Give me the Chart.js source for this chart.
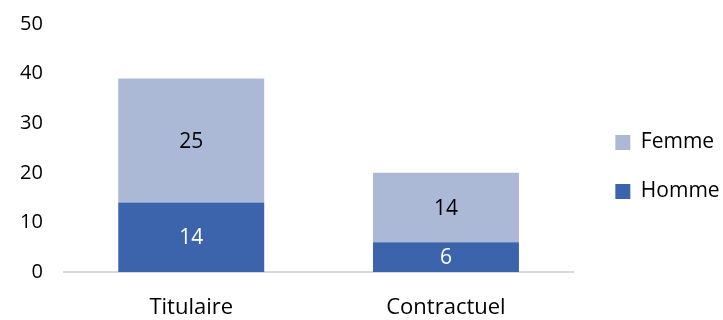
<!DOCTYPE html>
<html>
<head>
<meta charset="utf-8">
<script src="https://cdn.jsdelivr.net/npm/chart.js@4"></script>
<style>
  html, body { margin: 0; padding: 0; background: #fff; }
  #wrap { width: 723px; height: 320px; }
</style>
</head>
<body>
<div id="wrap"><canvas id="chart" width="723" height="320"></canvas></div>
<script>
const categories = ['Titulaire', 'Contractuel'];
const homme = [14, 6];
const femme = [25, 14];
const yTicks = [0, 10, 20, 30, 40, 50];

const FONT = '"Open Sans", sans-serif';

// values written in the middle of each bar segment
const barLabels = {
    id: 'barLabels',
    afterDatasetsDraw(chart) {
        const ctx = chart.ctx;
        ctx.save();
        ctx.font = '21px ' + FONT;
        ctx.textAlign = 'center';
        ctx.textBaseline = 'middle';
        chart.data.datasets.forEach((ds, i) => {
            chart.getDatasetMeta(i).data.forEach((bar, j) => {
                const mid = (bar.y + bar.base) / 2;
                ctx.fillStyle = ds.labelColor;
                ctx.fillText(ds.data[j], bar.x, mid + 1);
            });
        });
        ctx.restore();
    }
};

// the legend clips its own box, give it a little extra room
const legendRoom = {
    id: 'legendRoom',
    afterInit(chart) {
        const lg = chart.legend;
        if (!lg) return;
        const fit = lg.fit.bind(lg);
        lg.fit = function () { fit(); this.width += 15; };
    }
};

new Chart(document.getElementById('chart').getContext('2d'), {
    type: 'bar',
    data: {
        labels: categories,
        datasets: [
            { label: 'Homme', data: homme, backgroundColor: '#3C64AD', labelColor: '#ffffff' },
            { label: 'Femme', data: femme, backgroundColor: '#ABB9D7', labelColor: '#000000' }
        ]
    },
    options: {
        responsive: false,
        animation: false,
        layout: { padding: { top: 14, left: -1, right: 0, bottom: 0 } },
        datasets: { bar: { categoryPercentage: 1, barPercentage: 0.573 } },
        scales: {
            x: {
                stacked: true,
                grid: { display: false, drawTicks: false },
                border: { color: '#D9D9D9', width: 2 },
                ticks: { color: '#000', font: { family: FONT, size: 22 }, padding: 23 },
                afterFit: s => { s.height = 48; s.paddingLeft = 0; s.paddingRight = 0; }
            },
            y: {
                stacked: true,
                min: 0,
                max: 50,
                afterBuildTicks: axis => { axis.ticks = yTicks.map(v => ({ value: v })); },
                grid: { display: false, drawTicks: false },
                border: { display: false },
                ticks: { color: '#000', font: { family: FONT, size: 20 }, padding: 21 },
                afterFit: s => { s.paddingTop = 24; s.paddingBottom = 0; }
            },
            // empty gap between the plot and the legend
            gap: {
                type: 'linear',
                position: 'right',
                grid: { display: false, drawTicks: false },
                border: { display: false },
                ticks: { display: false },
                afterFit: s => { s.width = 14; s.paddingTop = 0; s.paddingBottom = 0; }
            }
        },
        plugins: {
            legend: {
                position: 'right',
                reverse: true,
                labels: {
                    color: '#000',
                    font: { family: FONT, size: 21 },
                    boxWidth: 15,
                    boxHeight: 15,
                    padding: 28
                }
            },
            tooltip: { enabled: false }
        }
    },
    plugins: [barLabels, legendRoom]
});
</script>
</body>
</html>
